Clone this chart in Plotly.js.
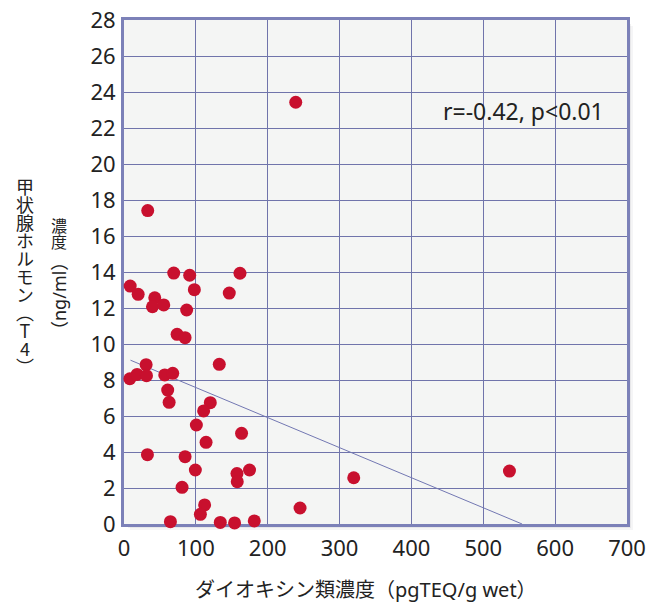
<!DOCTYPE html>
<html>
<head>
<meta charset="utf-8">
<script src="https://cdn.plot.ly/plotly-3.0.1.min.js"></script>
<style>html,body{margin:0;padding:0;background:#fff;}#chart{width:649px;height:603px;}</style>
</head>
<body>
<div id="chart"></div>
<script>
// Data
const dioxinX = [33, 8.6, 19.7, 42.8, 39.6, 55.3, 69.2, 91.4, 97.9, 161.4, 146.5, 87.2, 73.9, 85,
  8.1, 18.3, 30.8, 31.3, 56.7, 67.8, 132.6, 60.8, 62.8, 120.1, 110.8, 100.7, 163.6, 114.2,
  32.6, 85, 99.3, 174.7, 157.2, 157.6, 80.8, 112.2, 106.3, 64.6, 134, 153.9, 181.3, 245,
  239, 319.7, 536.4];
const t4Y = [17.41, 13.22, 12.76, 12.57, 12.07, 12.17, 13.94, 13.82, 13.02, 13.93, 12.83, 11.89, 10.54, 10.35,
  8.07, 8.31, 8.85, 8.24, 8.28, 8.37, 8.87, 7.44, 6.76, 6.74, 6.28, 5.5, 5.04, 4.54,
  3.85, 3.74, 3.0, 3.0, 2.8, 2.35, 2.04, 1.06, 0.54, 0.13, 0.09, 0.06, 0.17, 0.89,
  23.43, 2.57, 2.94];
const fitX = [9, 554];
const fitY = [9.1, 0];
const statText = 'r=-0.42, p<0.01';
const xTitle = 'ダイオキシン類濃度（pgTEQ/g wet）';
const yTitle1 = '甲状腺ホルモン（T4）';
const yTitle2Upright = '濃度';
const yTitle2Rotated = '（ng/ml）';

// layout geometry (pixels)
const L = 124, R = 627, T = 20, B = 524;
const W = R - L, H = B - T;
const px2x = p => (p - L) / W;
const py2y = p => (B - p) / H;

const FONT = 'Noto Sans, Noto Sans CJK JP, sans-serif';
const CJK = 'Noto Sans CJK JP, sans-serif';
const TXT = '#222222';
const GRID = '#7074ab';
const FRAME = '#7c81b8';

const annotations = [
  {
    xref: 'x', yref: 'y', x: 442, y: 22.95, xanchor: 'left', yanchor: 'middle',
    text: statText, showarrow: false, borderpad: 0,
    font: {family: FONT, size: 23, color: TXT}
  },
  {
    xref: 'paper', yref: 'paper', x: px2x(366), y: py2y(589), xanchor: 'center', yanchor: 'middle',
    text: xTitle, showarrow: false, borderpad: 0,
    font: {family: FONT, size: 20, color: TXT}
  },
  // vertical (tategaki) titles: made vertical after drawing
  {
    xref: 'paper', yref: 'paper', x: px2x(25), y: py2y(277), xanchor: 'center', yanchor: 'middle',
    text: yTitle1, showarrow: false, borderpad: 0,
    font: {family: CJK, size: 18, color: TXT}
  },
  {
    xref: 'paper', yref: 'paper', x: px2x(59), y: py2y(234), xanchor: 'center', yanchor: 'middle',
    text: yTitle2Upright, showarrow: false, borderpad: 0,
    font: {family: CJK, size: 16, color: TXT}
  },
  {
    xref: 'paper', yref: 'paper', x: px2x(59), y: py2y(296), xanchor: 'center', yanchor: 'middle',
    text: yTitle2Rotated, textangle: -90, showarrow: false, borderpad: 0,
    font: {family: FONT, size: 18, color: TXT}
  }
];
const verticalTargets = [
  {index: 2, cx: 25, cy: 277, orientation: 'upright'},
  {index: 3, cx: 59, cy: 234, orientation: 'upright'}
];

const shapes = [];
// soft drop shadow (right/bottom)
[[6, 0.05], [4, 0.07], [2, 0.09]].forEach(([o, a]) => {
  shapes.push({type: 'rect', xref: 'paper', yref: 'paper', layer: 'below',
    x0: px2x(L + o), x1: px2x(R + o), y0: py2y(B + o), y1: py2y(T + o),
    line: {width: 0}, fillcolor: 'rgba(60,60,70,' + a + ')'});
});
// plot background
shapes.push({type: 'rect', xref: 'paper', yref: 'paper', layer: 'below',
  x0: 0, x1: 1, y0: 0, y1: 1, line: {width: 0}, fillcolor: '#f4f5f4'});

const traces = [
  {
    x: fitX, y: fitY, type: 'scatter', mode: 'lines',
    line: {color: '#7277b2', width: 1}, hoverinfo: 'skip', cliponaxis: false
  },
  {
    x: dioxinX, y: t4Y, type: 'scatter', mode: 'markers',
    marker: {color: '#c8102e', size: 13, line: {width: 0}}, cliponaxis: false
  }
];

const layout = {
  width: 649, height: 603,
  margin: {l: L, r: 649 - R, t: T, b: 603 - B, pad: 0},
  paper_bgcolor: '#ffffff',
  plot_bgcolor: 'rgba(0,0,0,0)',
  showlegend: false,
  xaxis: {
    range: [0, 700], dtick: 100, tick0: 0,
    showgrid: true, gridcolor: GRID, gridwidth: 1,
    zeroline: false, showline: true, mirror: true, linecolor: FRAME, linewidth: 3,
    ticks: '', ticklabelstandoff: 3, layer: 'below traces',
    tickfont: {family: FONT, size: 22, color: TXT}
  },
  yaxis: {
    range: [0, 28], dtick: 2, tick0: 0,
    showgrid: true, gridcolor: GRID, gridwidth: 1,
    zeroline: false, showline: true, mirror: true, linecolor: FRAME, linewidth: 3,
    ticks: '', ticklabelstandoff: 1, layer: 'below traces',
    tickfont: {family: FONT, size: 22, color: TXT}
  },
  annotations: annotations,
  shapes: shapes
};

Plotly.newPlot('chart', traces, layout, {displayModeBar: false, staticPlot: true}).then(gd => {
  const anns = gd.querySelectorAll('.annotation');
  verticalTargets.forEach(t => {
    const ann = anns[t.index];
    if (!ann) return;
    const txt = ann.querySelector('text.annotation-text');
    if (!txt) return;
    txt.style.writingMode = 'vertical-rl';
    txt.style.textOrientation = t.orientation;
    const r = txt.getBoundingClientRect();
    const host = gd.getBoundingClientRect();
    const dx = t.cx - (r.left - host.left + r.width / 2);
    const dy = t.cy - (r.top - host.top + r.height / 2);
    const prev = txt.getAttribute('transform') || '';
    txt.setAttribute('transform', 'translate(' + dx + ',' + dy + ') ' + prev);
  });
});
</script>
</body>
</html>
